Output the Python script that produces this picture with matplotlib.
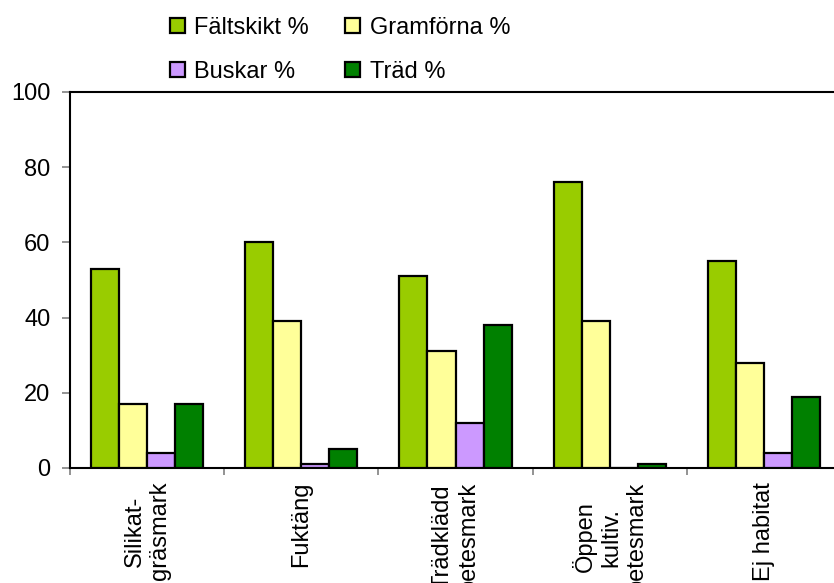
import matplotlib
matplotlib.use("Agg")
import matplotlib.pyplot as plt
import numpy as np
from matplotlib.patches import Patch

plt.rcParams['font.family'] = ['Liberation Sans', 'DejaVu Sans']

categories = ["Silikat-\ngräsmark", "Fuktäng", "Trädklädd\nbetesmark",
              "Öppen\nkultiv.\nbetesmark", "Ej habitat"]
series_names = ["Fältskikt %", "Gramförna %", "Buskar %", "Träd %"]
faltskikt = [53, 60, 51, 76, 55]
gramforna = [17, 39, 31, 39, 28]
buskar = [4, 1, 12, 0, 4]
trad = [17, 5, 38, 1, 19]
colors = ["#99CC00", "#FFFF99", "#CC99FF", "#008000"]
y_ticks = [0, 20, 40, 60, 80, 100]

W, H = 834, 583
fig = plt.figure(figsize=(W / 100, H / 100), dpi=100)
ax = fig.add_axes([70 / W, (H - 468) / H, 771 / W, 376 / H])

x = np.arange(len(categories))
bw = 0.182
series = [faltskikt, gramforna, buskar, trad]
handles = []
for i, (vals, col, name) in enumerate(zip(series, colors, series_names)):
    pos = x + (i - 1.5) * bw
    ax.bar(pos, vals, width=bw, color=col, edgecolor="black", linewidth=1.6,
           label=name, zorder=3)
    handles.append(Patch(facecolor=col, edgecolor="black", linewidth=1.6, label=name))

ax.set_xlim(-0.5, len(categories) - 0.5)
ax.set_ylim(0, 100)
ax.set_yticks(y_ticks)
ax.tick_params(axis="y", direction="out", length=6, width=1.2, color="#808080",
               pad=8, labelsize=17)

ax.set_xticks(x)
ax.set_xticklabels(categories, rotation=90, ha="center", va="top",
                   multialignment="center", fontsize=17)
ax.tick_params(axis="x", which="major", length=0, pad=10)
ax.set_xticks(np.arange(len(categories) + 1) - 0.5, minor=True)
ax.tick_params(axis="x", which="minor", direction="out", length=5, width=1.2,
               color="#808080")

for s in ["left", "bottom", "top"]:
    ax.spines[s].set_linewidth(1.5)
    ax.spines[s].set_color("black")
ax.spines["right"].set_visible(False)

# two rows: Fältskikt / Gramförna on top, Buskar / Träd below
legend_order = [handles[0], handles[2], handles[1], handles[3]]
fig.legend(handles=legend_order, loc="upper left",
           bbox_to_anchor=(170 / W, 1 - 17 / H), ncol=2, frameon=False,
           fontsize=17, handlelength=0.62, handleheight=0.62, handletextpad=0.4,
           columnspacing=1.55, labelspacing=0.92, borderpad=0, borderaxespad=0)

fig.savefig("out.png", dpi=100)
